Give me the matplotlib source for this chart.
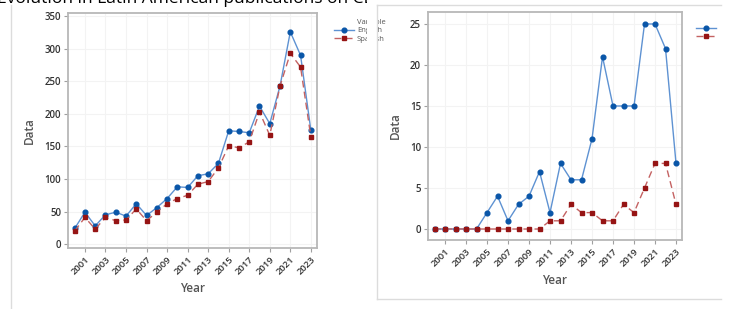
import matplotlib
matplotlib.use("Agg")
import matplotlib.pyplot as plt
from matplotlib.lines import Line2D
from matplotlib.patches import Rectangle

plt.rcParams['font.family'] = ['Open Sans', 'DejaVu Sans']

years = list(range(2000, 2024))
tick_years = list(range(2001, 2024, 2))

# left panel: all publications
left_blue = [24, 49, 28, 45, 49, 43, 62, 44, 56, 70, 88, 87, 105, 108, 124,
             174, 173, 171, 212, 185, 243, 326, 290, 175]
left_red = [20, 41, 23, 41, 36, 37, 54, 36, 49, 62, 70, 75, 92, 96, 117,
            151, 148, 157, 203, 167, 243, 293, 272, 165]
left_yticks = [0, 50, 100, 150, 200, 250, 300, 350]

# right panel
right_blue = [0, 0, 0, 0, 0, 2, 4, 1, 3, 4, 7, 2, 8, 6, 6,
              11, 21, 15, 15, 15, 25, 25, 22, 8]
right_red = [0, 0, 0, 0, 0, 0, 0, 0, 0, 0, 0, 1, 1, 3, 2,
             2, 1, 1, 3, 2, 5, 8, 8, 3]
right_yticks = [0, 5, 10, 15, 20, 25]

legend_title = "Variable"
legend_labels = ["English", "Spanish"]
title = "Evolution in Latin American publications on CE"

W, H = 738, 309
fig = plt.figure(figsize=(W / 100, H / 100), dpi=100)

def fx(px):
    return px / W

def fy(py):
    return 1 - py / H

blue_mk = '#0a56a8'
blue_ln = '#5e92d2'
red_mk = '#961414'
red_ln = '#c46262'
txt = '#333333'
lab = '#555555'


def panel(rect, blue, red, yticks, ylim, xlim):
    ax = fig.add_axes(rect)
    ax.plot(years, blue, '-', color=blue_ln, lw=1.0, marker='o', markersize=3.4,
            markerfacecolor=blue_mk, markeredgecolor=blue_mk, label=legend_labels[0], zorder=3)
    ax.plot(years, red, color=red_ln, lw=1.0, ls=(0, (5, 3)), marker='s', markersize=3.3,
            markerfacecolor=red_mk, markeredgecolor=red_mk, label=legend_labels[1], zorder=4)
    ax.set_xlim(*xlim)
    ax.set_ylim(*ylim)
    ax.set_xticks(tick_years)
    ax.set_xticklabels([str(y) for y in tick_years], rotation=45, ha='right',
                       rotation_mode='anchor', fontsize=6.8, color=txt, fontweight='semibold')
    ax.set_yticks(yticks)
    ax.set_yticklabels([str(v) for v in yticks], fontsize=7, color=txt, fontweight='semibold')
    ax.tick_params(axis='both', length=3, color='#a0a0a0', width=0.8, pad=2)
    ax.grid(True, color='#f3f3f3', lw=0.8)
    ax.set_axisbelow(True)
    for s in ax.spines.values():
        s.set_color('#b8b8b8')
        s.set_linewidth(1.3)
    ax.set_xlabel('Year', fontsize=8.5, color=lab, fontweight='semibold', labelpad=4)
    ax.set_ylabel('Data', fontsize=8.5, color=lab, fontweight='semibold', labelpad=6)
    return ax


axL = panel([fx(68), fy(248), fx(317 - 68), (248 - 13) / H],
            left_blue, left_red, left_yticks, (-6, 355), (1999.35, 2023.6))
axR = panel([fx(428), fy(240), fx(682 - 428), (240 - 12) / H],
            right_blue, right_red, right_yticks, (-1.34, 26.46), (1999.38, 2023.57))

# left legend: title sits in the label column, as in the reference
hL, lL = axL.get_legend_handles_labels()
blank = Line2D([], [], color='none')
legL = axL.legend([blank] + hL, [legend_title] + lL, loc='upper left',
                  bbox_to_anchor=(1.056, 0.99), frameon=False, fontsize=5.5,
                  handlelength=2.6, handletextpad=0.4, labelspacing=0.15,
                  borderaxespad=0)
for t in legL.get_texts():
    t.set_color('#555555')

# right legend: only the handles are inside the picture
hR, _ = axR.get_legend_handles_labels()
axR.legend(hR, ['', ''], loc='upper left', bbox_to_anchor=(1.045, 0.955),
           frameon=False, fontsize=5.5, handlelength=2.6,
           handletextpad=0.0, labelspacing=0.15, borderaxespad=0)

# crop masks: the picture is a cut of two panels side by side
fig.patches.append(Rectangle((fx(367), 0), fx(10), 1, transform=fig.transFigure,
                             facecolor='white', edgecolor='none', zorder=10))
fig.patches.append(Rectangle((fx(721), 0), fx(17), 1, transform=fig.transFigure,
                             facecolor='white', edgecolor='none', zorder=10))

# panel borders
grey = '#dcdcdc'
fig.add_artist(Line2D([fx(11), fx(11)], [fy(5), 0], color=grey, lw=1, zorder=11))
fig.add_artist(Line2D([fx(377), fx(377)], [fy(5), fy(299)], color=grey, lw=1, zorder=11))
fig.add_artist(Line2D([fx(377), fx(721)], [fy(5), fy(5)], color=grey, lw=1, zorder=11))
fig.add_artist(Line2D([fx(377), fx(721)], [fy(299), fy(299)], color=grey, lw=1, zorder=11))

# title, mostly cut off by the top edge
fig.text(fx(-3), fy(3), title, fontsize=12.5, color='black', ha='left', va='baseline')

fig.savefig('out.png', dpi=100)
